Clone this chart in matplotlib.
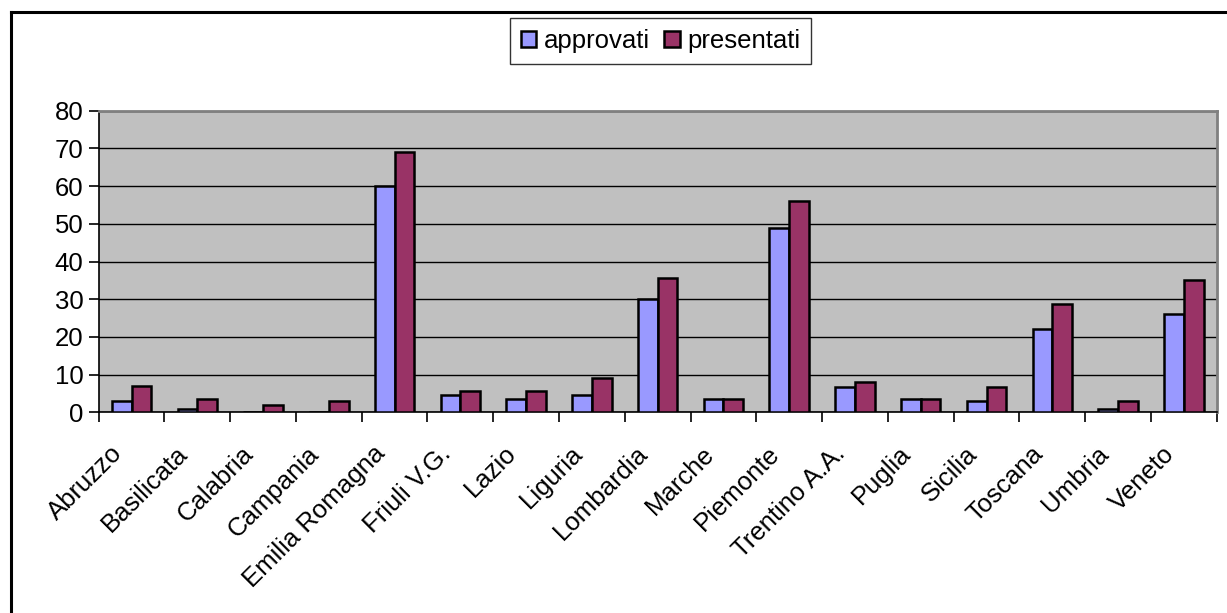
import numpy as np
import matplotlib.pyplot as plt
from matplotlib.lines import Line2D

plt.rcParams['font.family'] = ['Liberation Sans', 'DejaVu Sans']

regioni = ['Abruzzo', 'Basilicata', 'Calabria', 'Campania', 'Emilia Romagna',
           'Friuli V.G.', 'Lazio', 'Liguria', 'Lombardia', 'Marche', 'Piemonte',
           'Trentino A.A.', 'Puglia', 'Sicilia', 'Toscana', 'Umbria', 'Veneto']
approvati = [3, 1, 0, 0, 60, 4.7, 3.5, 4.7, 30, 3.5, 49, 6.8, 3.5, 3, 22, 1, 26]
presentati = [7, 3.5, 2, 3, 69, 5.7, 5.7, 9, 35.6, 3.5, 56, 8, 3.5, 6.8, 28.7, 3, 35.2]

fig = plt.figure(figsize=(12.27, 6.13), dpi=100)
ax = fig.add_axes([0.0804, 0.3274, 0.9112, 0.492])

x = np.arange(len(regioni))
w = 0.3
ax.bar(x - w / 2, approvati, w, color='#9999FF', edgecolor='black', linewidth=1.8,
       label='approvati', zorder=3)
ax.bar(x + w / 2, presentati, w, color='#993366', edgecolor='black', linewidth=1.8,
       label='presentati', zorder=3)

ax.set_facecolor('#C0C0C0')
ax.set_xlim(-0.5, len(regioni) - 0.5)
ax.set_ylim(0, 80)
ax.set_yticks(range(0, 81, 10))
ax.yaxis.grid(True, color='black', linewidth=1)
ax.set_axisbelow(True)

# ticks between categories; rotated labels end a little left of the centre
ax.set_xticks(np.arange(-0.5, len(regioni), 1))
ax.set_xticklabels([])
ax.set_xticks(x - 0.33, minor=True)
ax.set_xticklabels(regioni, minor=True, rotation=45, ha='right', va='top',
                   rotation_mode='anchor', fontsize=18.5)
ax.tick_params(axis='x', which='minor', length=0, pad=21)
ax.tick_params(axis='x', which='major', length=7, width=1.2, direction='out')
ax.tick_params(axis='y', length=7, width=1.2, labelsize=18.5, pad=4)

ax.spines['top'].set_color('#808080')
ax.spines['right'].set_color('#808080')
ax.spines['top'].set_linewidth(2)
ax.spines['right'].set_linewidth(2)
ax.spines['left'].set_linewidth(1.2)
ax.spines['bottom'].set_linewidth(1.2)

leg = fig.legend(loc='upper left', bbox_to_anchor=(510 / 1227, 1 - 18 / 613), ncol=2,
                 fontsize=18.5, frameon=True, fancybox=False, edgecolor='black',
                 handlelength=0.6, handleheight=0.6, handletextpad=0.3,
                 columnspacing=0.55, borderpad=0.42, borderaxespad=0)
leg.get_frame().set_linewidth(1)

# outer chart frame (cut off at right and bottom)
fig.add_artist(Line2D([11 / 1227, 11 / 1227], [0, 1 - 12 / 613], color='black', linewidth=2.2))
fig.add_artist(Line2D([11 / 1227, 1], [1 - 12 / 613, 1 - 12 / 613], color='black', linewidth=2.2))

fig.savefig('out.png', dpi=100, facecolor='white')
